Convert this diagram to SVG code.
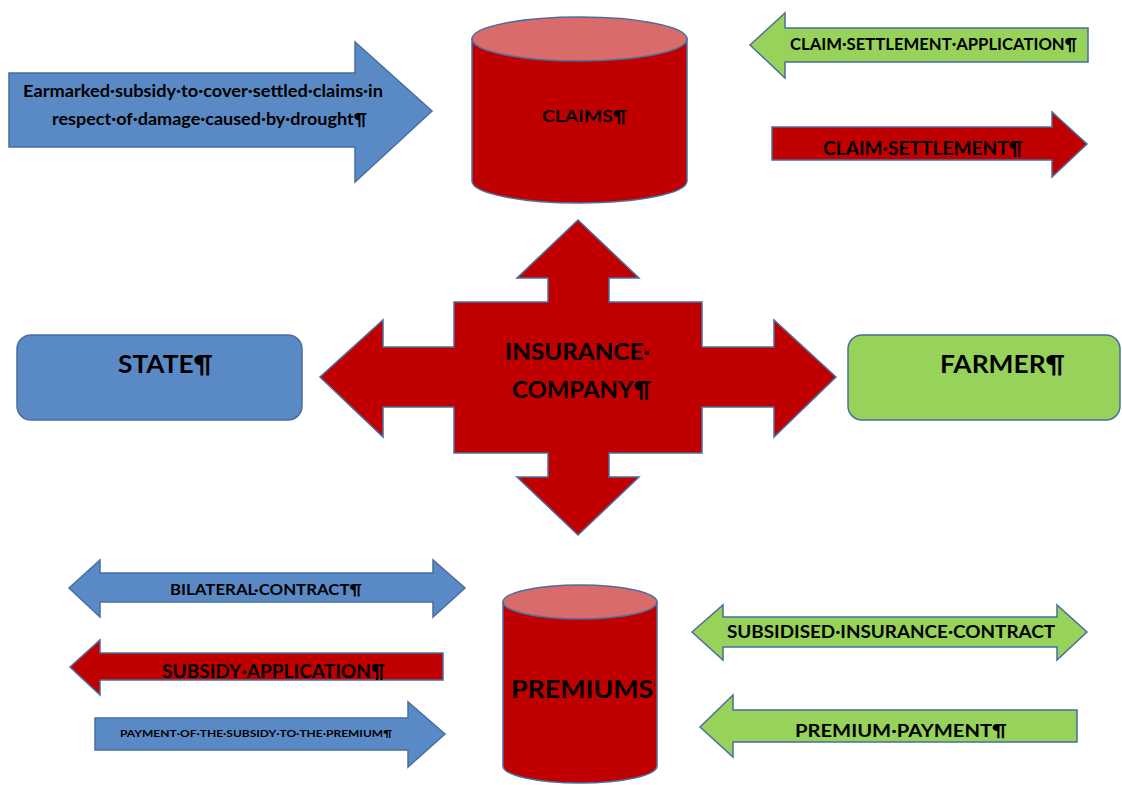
<svg xmlns="http://www.w3.org/2000/svg" width="1122" height="785" viewBox="0 0 1122 785">
  <style>
    .blue { fill: #5a8ac6; stroke: #4a6ea0; stroke-width: 1.5; }
    .green { fill: #97d25a; stroke: #4a6ea0; stroke-width: 1.5; }
    .red { fill: #c00000; stroke: #4a6ea0; stroke-width: 1.5; }
    .cyl-top { fill: #d96b6b; stroke: #4a6ea0; stroke-width: 1.5; }
    text { font-family: Lato, "Liberation Sans", sans-serif; font-weight: bold; fill: #000; }
  </style>
  <defs>
    <clipPath id="premiums-clip">
      <path d="M503,602 V766 A77,17 0 0 0 655,766 V602 Z"/>
    </clipPath>
  </defs>
  <rect width="1122" height="785" fill="#ffffff"/>

  <!-- block arrows between the parties -->
  <g id="connectors">
    <g id="arrow-earmarked">
      <path class="blue" d="M9,73 H355 V42 L432,111 L355,182 V147 H9 Z"/>
      <text x="23" y="97" font-size="17" textLength="360" lengthAdjust="spacingAndGlyphs">Earmarked·subsidy·to·cover·settled·claims·in</text>
      <text x="52" y="125" font-size="17" textLength="315" lengthAdjust="spacingAndGlyphs">respect·of·damage·caused·by·drought¶</text>
    </g>
    <g id="arrow-claim-application">
      <path class="green" d="M750,45 L785,13 V28 H1088 V62 H785 V78 Z"/>
      <text x="790" y="50" font-size="17" textLength="287" lengthAdjust="spacingAndGlyphs">CLAIM·SETTLEMENT·APPLICATION¶</text>
    </g>
    <g id="arrow-claim-settlement">
      <path class="red" d="M772,127 H1052 V112 L1087,144 L1052,177 V160 H772 Z"/>
      <text x="823" y="155" font-size="18" textLength="200" lengthAdjust="spacingAndGlyphs">CLAIM·SETTLEMENT¶</text>
    </g>
    <g id="arrow-bilateral-contract">
      <path class="blue" d="M69,588 L100,560 V573 H433 V560 L465,588 L433,617 V602 H100 V617 Z"/>
      <text x="170" y="595" font-size="16" textLength="192" lengthAdjust="spacingAndGlyphs">BILATERAL·CONTRACT¶</text>
    </g>
    <g id="arrow-subsidy-application">
      <path class="red" d="M70,667 L100,640 V653 H443 V680 H100 V695 Z"/>
      <text x="162" y="678" font-size="19" textLength="223" lengthAdjust="spacingAndGlyphs">SUBSIDY·APPLICATION¶</text>
    </g>
    <g id="arrow-subsidy-payment">
      <path class="blue" d="M95,718 H408 V702 L445,734 L408,767 V750 H95 Z"/>
      <text x="120" y="737" font-size="10" textLength="272" lengthAdjust="spacingAndGlyphs">PAYMENT·OF·THE·SUBSIDY·TO·THE·PREMIUM¶</text>
    </g>
    <g id="arrow-subsidised-contract">
      <path class="green" d="M692,632 L723,605 V617 H1057 V605 L1087,632 L1057,660 V647 H723 V660 Z"/>
      <text x="727" y="638" font-size="16.5" textLength="328" lengthAdjust="spacingAndGlyphs">SUBSIDISED·INSURANCE·CONTRACT</text>
    </g>
    <g id="arrow-premium-payment">
      <path class="green" d="M700,727 L733,695 V710 H1077 V742 H733 V757 Z"/>
      <text x="795" y="737" font-size="16.5" textLength="212" lengthAdjust="spacingAndGlyphs">PREMIUM·PAYMENT¶</text>
    </g>
  </g>

  <!-- claims store -->
  <g id="claims">
    <path class="red" d="M472,39 V181 A107.5,22 0 0 0 687,181 V39 Z"/>
    <ellipse class="cyl-top" cx="579.5" cy="39" rx="107.5" ry="22"/>
    <text x="542" y="122" font-size="17" textLength="85" lengthAdjust="spacingAndGlyphs">CLAIMS¶</text>
  </g>

  <!-- insurance company: four-way arrow -->
  <g id="insurance-company">
    <path class="red" d="M578,220 L639,278 H609 V302 H702 V347 H774 V320 L836,377 L774,437 V407 H702 V453 H609 V477 H639 L578,535 L517,477 H548 V453 H454 V407 H383 V437 L320,377 L383,320 V347 H454 V302 H548 V278 H517 Z"/>
    <text x="505" y="360" font-size="22" textLength="145" lengthAdjust="spacingAndGlyphs">INSURANCE·</text>
    <text x="512" y="398" font-size="22" textLength="139" lengthAdjust="spacingAndGlyphs">COMPANY¶</text>
  </g>

  <!-- state -->
  <g id="state">
    <rect class="blue" x="17" y="335" width="285" height="85" rx="14"/>
    <text x="118" y="373" font-size="25" textLength="95" lengthAdjust="spacingAndGlyphs">STATE¶</text>
  </g>

  <!-- farmer -->
  <g id="farmer">
    <rect class="green" x="848" y="335" width="272" height="85" rx="14"/>
    <text x="940" y="373" font-size="25" textLength="125" lengthAdjust="spacingAndGlyphs">FARMER¶</text>
  </g>

  <!-- premiums store; the label runs past the right side and is cut off there -->
  <g id="premiums">
    <path class="red" d="M503,602 V766 A77,17 0 0 0 657,766 V602 Z"/>
    <ellipse class="cyl-top" cx="580" cy="602" rx="77" ry="17"/>
    <text x="511" y="698" font-size="24" clip-path="url(#premiums-clip)" textLength="162" lengthAdjust="spacingAndGlyphs">PREMIUMS¶</text>
  </g>
</svg>
